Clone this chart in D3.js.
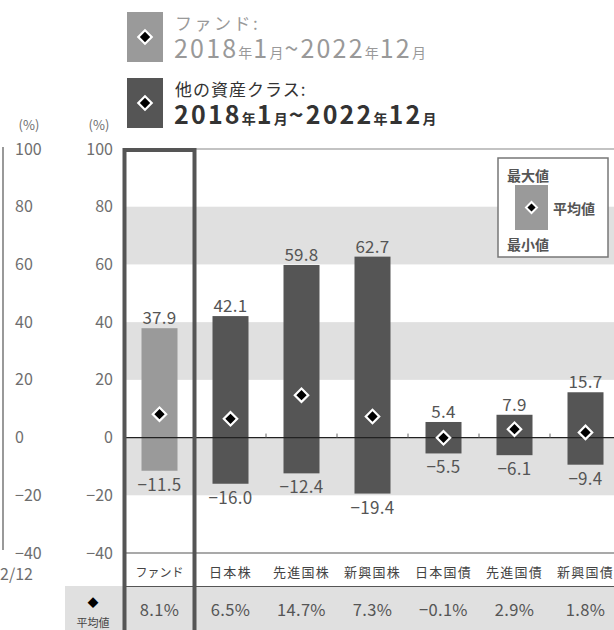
<!DOCTYPE html>
<html>
<head>
<meta charset="utf-8">
<script src="https://cdn.jsdelivr.net/npm/d3@7"></script>
<style>
  body { margin: 0; background: white; overflow: hidden; }
  text { font-family: "Noto Sans CJK JP", "Noto Sans", sans-serif; }
</style>
</head>
<body>
<script>
// data
const categories = ["ファンド", "日本株", "先進国株", "新興国株", "日本国債", "先進国債", "新興国債"]
const maxValues = [37.9, 42.1, 59.8, 62.7, 5.4, 7.9, 15.7]
const minValues = [-11.5, -16.0, -12.4, -19.4, -5.5, -6.1, -9.4]
const avgValues = [8.1, 6.5, 14.7, 7.3, -0.1, 2.9, 1.8]
const yTicks = [100, 80, 60, 40, 20, 0, -20, -40]
const bands = [[60, 80], [20, 40], [-20, 0]]
const period = "2018年1月~2022年12月"

const [width, height] = [614, 630]
const colors = {
    "fund": "#9a9a9a",
    "other": "#555555",
    "band": "#e0e0e0",
    "frame": "#555555",
    "label": "#555555",
    "axis": "#6e6e6e",
    "white": "white"
}
const rows = categories.map((c, i) => ({ cat: c, max: maxValues[i], min: minValues[i], avg: avgValues[i], fund: i === 0 }))
const fmt = v => v.toFixed(1).replace('-', '\u2212')
const fmtTick = d => String(d).replace('-', '\u2212')

const x = d3.scaleBand().domain(categories).range([124, 621])
const y = d3.scaleLinear().domain([-40, 100]).range([553, 149])
const barW = 36
const diamond = d3.symbol(d3.symbolSquare, 90)

const svg = d3.select("body")
    .append('svg')
        .attr('width', width)
        .attr('height', height)

// bands
svg.append('g').selectAll('rect')
.data(bands)
.enter()
.append('rect')
    .attr('x', 124)
    .attr('width', width - 124)
    .attr('y', d => y(d[1]))
    .attr('height', d => y(d[0]) - y(d[1]))
    .attr('fill', colors.band)

// average row background
svg.append('rect')
    .attr('x', 65).attr('y', 586)
    .attr('width', width - 65).attr('height', height - 586)
    .attr('fill', colors.band)

// frame lines
svg.append('line')   // top
    .attr('x1', 124).attr('x2', width).attr('y1', y(100)).attr('y2', y(100))
    .attr('stroke', '#888').attr('stroke-width', 1.2)
svg.append('line')   // -40
    .attr('x1', 124).attr('x2', width).attr('y1', y(-40)).attr('y2', y(-40))
    .attr('stroke', '#555').attr('stroke-width', 1.2)
svg.append('line')   // table line
    .attr('x1', 124).attr('x2', width).attr('y1', 586.5).attr('y2', 586.5)
    .attr('stroke', '#555').attr('stroke-width', 1.2)
svg.append('line')   // left neighbour chart
    .attr('x1', 3).attr('x2', 3).attr('y1', 147).attr('y2', 550)
    .attr('stroke', '#777').attr('stroke-width', 1.5)

// bars
svg.append('g').selectAll('rect')
.data(rows)
.enter()
.append('rect')
    .attr('x', d => x(d.cat) + x.bandwidth() / 2 - barW / 2)
    .attr('width', barW)
    .attr('y', d => y(d.max))
    .attr('height', d => y(d.min) - y(d.max))
    .attr('fill', d => d.fund ? colors.fund : colors.other)

// zero line + small ticks
svg.append('line')
    .attr('x1', 124).attr('x2', width).attr('y1', y(0)).attr('y2', y(0))
    .attr('stroke', '#222').attr('stroke-width', 1.2)
svg.append('g').selectAll('line')
.data(categories.slice(2))
.enter()
.append('line')
    .attr('x1', d => x(d)).attr('x2', d => x(d))
    .attr('y1', y(0) - 4).attr('y2', y(0))
    .attr('stroke', '#666').attr('stroke-width', 1)

// diamonds
svg.append('g').selectAll('path')
.data(rows)
.enter()
.append('path')
    .attr('d', diamond)
    .attr('transform', d => `translate(${x(d.cat) + x.bandwidth() / 2},${y(d.avg)}) rotate(45)`)
    .attr('fill', 'black')
    .attr('stroke', colors.white)
    .attr('stroke-width', 2.2)

// max / min labels
svg.append('g').selectAll('text')
.data(rows)
.enter()
.append('text')
    .text(d => fmt(d.max))
    .attr('x', d => x(d.cat) + x.bandwidth() / 2)
    .attr('y', d => y(d.max) - 4)
    .attr('text-anchor', 'middle')
    .attr('font-size', 17)
    .attr('letter-spacing', 0.3)
    .attr('fill', colors.label)
svg.append('g').selectAll('text')
.data(rows)
.enter()
.append('text')
    .text(d => fmt(d.min))
    .attr('x', d => x(d.cat) + x.bandwidth() / 2)
    .attr('y', d => y(d.min) + 20)
    .attr('text-anchor', 'middle')
    .attr('font-size', 17)
    .attr('letter-spacing', 0.3)
    .attr('fill', colors.label)

// category labels
svg.append('g').selectAll('text')
.data(categories)
.enter()
.append('text')
    .text(d => d)
    .attr('x', d => x(d) + x.bandwidth() / 2)
    .attr('y', 577)
    .attr('text-anchor', 'middle')
    .attr('font-size', d => d === "ファンド" ? 12 : 13)
    .attr('letter-spacing', d => d === "ファンド" ? 0 : 1.3)
    .attr('fill', '#444')

// average values
svg.append('g').selectAll('text')
.data(rows)
.enter()
.append('text')
    .text(d => fmt(d.avg) + '%')
    .attr('x', d => x(d.cat) + x.bandwidth() / 2)
    .attr('y', 616)
    .attr('text-anchor', 'middle')
    .attr('font-size', 16.5)
    .attr('letter-spacing', 0.3)
    .attr('fill', colors.label)
svg.append('text').text('◆')
    .attr('x', 93).attr('y', 607).attr('text-anchor', 'middle')
    .attr('font-size', 11).attr('fill', 'black')
svg.append('text').text('平均値')
    .attr('x', 93).attr('y', 627).attr('text-anchor', 'middle')
    .attr('font-size', 11).attr('fill', '#444')

// y axes (own one, and the cut one from the neighbour chart)
const axis2 = svg.append('g')
    .attr('transform', 'translate(113,0)')
    .call(d3.axisLeft(y).tickValues(yTicks).tickSize(0).tickPadding(0).tickFormat(fmtTick))
axis2.select('.domain').remove()
axis2.selectAll('text').attr('font-size', 16).attr('fill', colors.axis).attr('font-family', '"Noto Sans CJK JP", sans-serif')

const axis1 = svg.append('g')
    .attr('transform', 'translate(15,0)')
    .call(d3.axisLeft(y).tickValues(yTicks).tickSize(0).tickPadding(0).tickFormat(fmtTick))
axis1.select('.domain').remove()
axis1.selectAll('text').attr('font-size', 16).attr('fill', colors.axis)
    .attr('text-anchor', 'start').attr('font-family', '"Noto Sans CJK JP", sans-serif')

svg.selectAll('.unit')
.data([29, 99])
.enter()
.append('text')
    .text('(%)')
    .attr('x', d => d).attr('y', 130)
    .attr('text-anchor', 'middle')
    .attr('font-size', 13)
    .attr('fill', colors.axis)
svg.append('text').text('2/12')
    .attr('x', 0).attr('y', 580)
    .attr('font-size', 16)
    .attr('fill', colors.axis)

// fund frame
svg.append('rect')
    .attr('x', x(categories[0]) + 0.5).attr('y', 150)
    .attr('width', x.bandwidth() - 1).attr('height', height)
    .attr('fill', 'none')
    .attr('stroke', colors.frame)
    .attr('stroke-width', 4)

// top legend
const legend = [
    { title: "ファンド:", fill: colors.fund, text: '#999', weight: 'normal', y: 12, ls: 2.5 },
    { title: "他の資産クラス:", fill: colors.other, text: '#333', weight: 'bold', y: 78, ls: 1 }
]
const lg = svg.append('g').selectAll('g')
.data(legend)
.enter()
.append('g')
    .attr('transform', d => `translate(127,${d.y})`)
lg.append('rect')
    .attr('width', 36).attr('height', 50)
    .attr('fill', d => d.fill)
lg.append('path')
    .attr('d', diamond)
    .attr('transform', 'translate(18,25) rotate(45)')
    .attr('fill', 'black').attr('stroke', colors.white).attr('stroke-width', 2.2)
lg.append('text')
    .text(d => d.title)
    .attr('x', 48).attr('y', 18)
    .attr('font-size', 17)
    .attr('letter-spacing', d => d.ls)
    .attr('fill', d => d.text)
const periodText = lg.append('text')
    .attr('x', 47).attr('y', 46)
    .attr('font-weight', d => d.weight)
    .attr('fill', d => d.text)
periodText.selectAll('tspan')
.data(period.match(/[0-9~]+|[年月]/g))
.enter()
.append('tspan')
    .text(d => d)
    .attr('font-size', d => /[年月]/.test(d) ? 14 : 25)
    .attr('letter-spacing', d => /[年月]/.test(d) ? 1 : 2.2)

// inner legend
const il = svg.append('g').attr('transform', 'translate(498,158)')
il.append('rect')
    .attr('width', 110).attr('height', 99)
    .attr('fill', colors.white)
    .attr('stroke', '#777').attr('stroke-width', 1.5)
il.append('rect')
    .attr('x', 17).attr('y', 27).attr('width', 33).attr('height', 45)
    .attr('fill', colors.fund)
il.append('path')
    .attr('d', d3.symbol(d3.symbolSquare, 60))
    .attr('transform', 'translate(33.5,49.5) rotate(45)')
    .attr('fill', 'black').attr('stroke', colors.white).attr('stroke-width', 2)
il.selectAll('.il')
.data([["最大値", 9, 23], ["平均値", 55, 56], ["最小値", 9, 92]])
.enter()
.append('text')
    .text(d => d[0])
    .attr('x', d => d[1]).attr('y', d => d[2])
    .attr('font-size', 14)
    .attr('font-weight', 'bold')
    .attr('fill', '#555')
</script>
</body>
</html>
